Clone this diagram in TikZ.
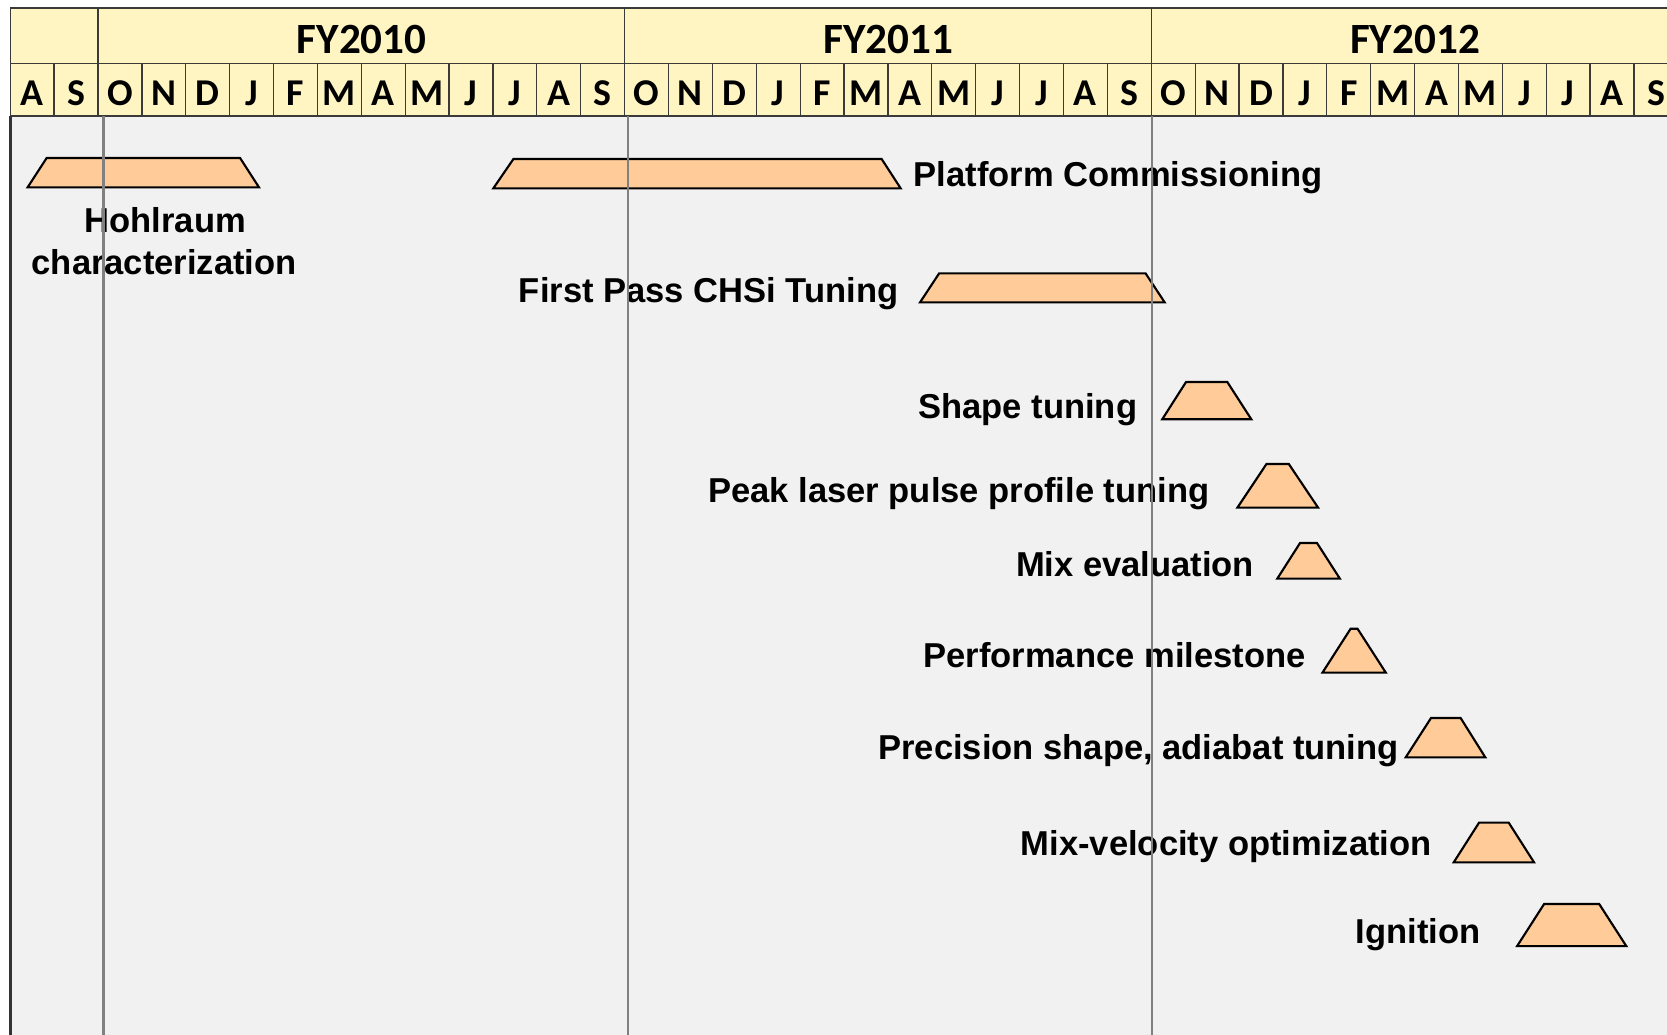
\documentclass[tikz,border=0pt]{standalone}
\usepackage{fontspec}
\setmainfont{Liberation Sans}
\newfontfamily\hdrfont{Carlito}
\definecolor{hdrfill}{HTML}{FFF5C2}
\definecolor{bodyfill}{HTML}{F1F1F1}
\definecolor{barfill}{HTML}{FFCC99}
\definecolor{gridline}{HTML}{3A3A3A}
\definecolor{guide}{HTML}{808080}

\begin{document}
\begin{tikzpicture}[x=0.5pt,y=-0.5pt,
  bar/.style={fill=barfill,draw=black,line width=1pt,line join=miter},
  task/.style={font=\fontsize{16.25}{19}\selectfont\bfseries,inner sep=0pt},
  yearlbl/.style={font=\hdrfont\fontsize{20.3}{24}\selectfont\bfseries,inner sep=0pt,anchor=base},
  monthlbl/.style={font=\hdrfont\fontsize{17.8}{21}\selectfont\bfseries,inner sep=0pt,anchor=base},
  grid/.style={draw=gridline,line width=0.6pt},
  guideline/.style={draw=guide,line width=1.1pt}]
\useasboundingbox (0,0) rectangle (1568,973);
\clip (0,0) rectangle (1568,973);
\fill[white] (0,0) rectangle (1568,973);

% chart body and header band
\fill[bodyfill] (10,109) rectangle (1600,980);
\fill[hdrfill] (9.6,7.5) rectangle (1600,109);

% header grid
\path[grid] (9.6,7.5) -- (1600,7.5) (9.6,59.6) -- (1600,59.6) (9.6,109) -- (1600,109);
\foreach \k in {0,2,14,26}
  \path[grid] ({9.6+41.28*\k},7.5) -- ({9.6+41.28*\k},59.6);
\foreach \k in {0,...,38}
  \path[grid] ({9.6+41.28*\k},59.6) -- ({9.6+41.28*\k},109);

% fiscal years
\node[yearlbl] (fy10) at (340.2,50.2) {FY2010};
\node[yearlbl] (fy11) at (835.7,50.2) {FY2011};
\node[yearlbl] (fy12) at (1331,50.2) {FY2012};

% months
\foreach \m [count=\i from 0] in {A,S,O,N,D,J,F,M,A,M,J,J,A,S,O,N,D,J,F,M,A,M,J,J,A,S,O,N,D,J,F,M,A,M,J,J,A,S}
  \node[monthlbl] (mon\i) at ({9.6+41.28*(\i+0.5)},99.7) {\m};

% task bars
\path[bar] (26,176.2) -- (43.9,148.6) -- (225.8,148.6) -- (243.6,176.2) -- cycle;
\path[bar] (464,177.2) -- (482.9,149.6) -- (829.3,149.6) -- (847.2,177.2) -- cycle;
\path[bar] (865.4,284.4) -- (883.4,257.1) -- (1077.5,257.1) -- (1095.5,284.4) -- cycle;
\path[bar] (1093.2,394.4) -- (1115.6,359.3) -- (1154.4,359.3) -- (1177,394.4) -- cycle;
\path[bar] (1163.9,477.5) -- (1191.2,436.5) -- (1212.3,436.5) -- (1239.8,477.5) -- cycle;
\path[bar] (1201.4,544.3) -- (1222.8,510.8) -- (1238.8,510.8) -- (1260.3,544.3) -- cycle;
\path[bar] (1243.9,632.7) -- (1270.4,591.4) -- (1276.9,591.4) -- (1303.5,632.7) -- cycle;
\path[bar] (1322.2,712.4) -- (1346,675.4) -- (1373.9,675.4) -- (1397.1,712.4) -- cycle;
\path[bar] (1367.4,811.1) -- (1391.2,773.8) -- (1419.1,773.8) -- (1442.9,811.1) -- cycle;
\path[bar] (1427,889.9) -- (1452.4,850.3) -- (1504.2,850.3) -- (1529.7,889.9) -- cycle;

% task labels
\node[task,anchor=base] (hohlA) at (155.5,219) {Hohlraum};
\node[task,anchor=base] (hohlB) at (154.5,258.5) {characterization};
\node[task,anchor=base west] (platform) at (859,175) {Platform Commissioning};
\node[task,anchor=base east] (chsi) at (845.5,284.6) {First Pass CHSi Tuning};
\node[task,anchor=base east] (shape) at (1070,393.5) {Shape tuning};
\node[task,anchor=base east] (peak) at (1138,472.5) {Peak laser pulse profile tuning};
\node[task,anchor=base east] (mixeval) at (1180,542.5) {Mix evaluation};
\node[task,anchor=base east] (perf) at (1228.5,628) {Performance milestone};
\node[task,anchor=base east] (precision) at (1316,714) {Precision shape, adiabat tuning};
\node[task,anchor=base east] (mixvel) at (1347,804.5) {Mix-velocity optimization};
\node[task,anchor=base east] (ignition) at (1393,887) {Ignition};

% fiscal-year guide lines and left border, drawn over the bars
\path[guideline] (97.2,109) -- (97.2,980);
\path[guideline] (591,109) -- (591,980);
\path[guideline] (1083.3,109) -- (1083.3,980);
\draw[black!80,line width=1.2pt] (10,109) -- (10,980);
\end{tikzpicture}
\end{document}
